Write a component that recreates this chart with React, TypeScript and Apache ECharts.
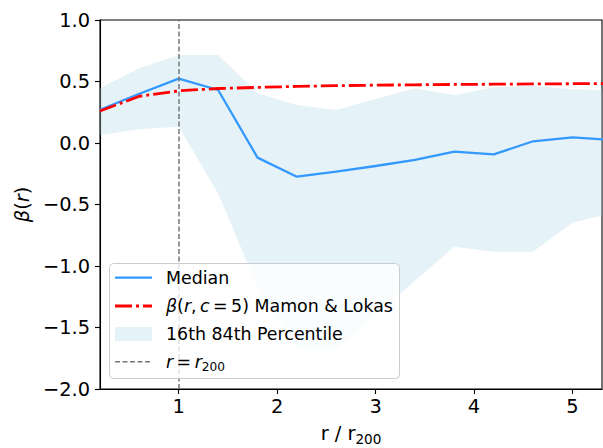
import React, { useEffect, useRef } from "react";
import * as echarts from "echarts";

const radius = [0.2, 0.6, 1.0, 1.4, 1.8, 2.2, 2.6, 3.0, 3.4, 3.8, 4.2, 4.6, 5.0, 5.4];
const medianBeta = [0.27, 0.40, 0.523, 0.431, -0.119, -0.274, -0.233, -0.187, -0.138, -0.07, -0.092, 0.014, 0.046, 0.025];
const mamonLokas = [0.26, 0.38, 0.424, 0.443, 0.452, 0.46, 0.466, 0.47, 0.473, 0.476, 0.478, 0.48, 0.482, 0.484];
const upper84 = [0.445, 0.607, 0.715, 0.715, 0.404, 0.309, 0.268, 0.357, 0.445, 0.39, 0.453, 0.466, 0.436, 0.428];
const lower16 = [0.065, 0.111, 0.133, -0.41, -1.17, -1.67, -1.68, -1.40, -1.12, -0.843, -0.884, -0.884, -0.648, -0.57];
const xTicks = [1, 2, 3, 4, 5];
const r200 = 1;

const FONT = "DejaVu Sans";
const MEDIAN_COLOR = "#3399ff";
const BAND_COLOR = "rgba(173,216,230,0.32)";
const VLINE_COLOR = "#777777";
const AX_FS = 19.4;
const LEG_FS = 17.4;

const fmtY = (v: number) => (v < 0 ? "\u2212" : "") + Math.abs(v).toFixed(1);

const makeRich = (fs: number) => ({
  i: { fontFamily: FONT, fontStyle: "italic", fontSize: fs, color: "#000" },
  n: { fontFamily: FONT, fontSize: fs, color: "#000" },
  sub: { fontFamily: FONT, fontSize: Math.round(fs * 0.7 * 10) / 10, color: "#000", padding: [Math.round(fs * 0.6), 0, 0, 0] },
});
const axisRich = makeRich(AX_FS);
const legRich = makeRich(LEG_FS);

export default function App() {
  const ref = useRef<HTMLDivElement>(null);
  useEffect(() => {
    if (!ref.current) return;
    const chart = echarts.init(ref.current, null, { renderer: "svg" });
    const legendX = 115;
    const legendTextX = 166;
    const rows = [277.7, 306, 334, 361.7];
    const option: any = {
      animation: false,
      textStyle: { fontFamily: FONT },
      grid: {
        left: 100,
        right: 1,
        top: 20,
        bottom: 59,
        outerBoundsMode: "none",
        containLabel: false,
        show: true,
        borderColor: "#000",
        borderWidth: 1.1,
        backgroundColor: "transparent",
      },
      xAxis: {
        type: "value",
        min: 0.2,
        max: 5.3,
        splitLine: { show: false },
        axisLine: { show: true, onZero: false, lineStyle: { color: "#000", width: 1.1 } },
        axisTick: { show: true, inside: false, length: 5, customValues: xTicks, lineStyle: { color: "#000", width: 1.1 } },
        axisLabel: {
          customValues: xTicks,
          formatter: (v: number) => String(v),
          fontSize: AX_FS,
          fontFamily: FONT,
          color: "#000",
          margin: 8,
        },
        name: "{n|r / r}{sub|200}",
        nameLocation: "middle",
        nameGap: 31,
        nameTextStyle: { rich: axisRich },
      },
      yAxis: {
        type: "value",
        min: -2,
        max: 1,
        interval: 0.5,
        splitLine: { show: false },
        axisLine: { show: true, onZero: false, lineStyle: { color: "#000", width: 1.1 } },
        axisTick: { show: true, inside: false, length: 5, lineStyle: { color: "#000", width: 1.1 } },
        axisLabel: {
          formatter: fmtY,
          fontSize: AX_FS,
          fontFamily: FONT,
          color: "#000",
          margin: 10,
        },
        name: "{i|\u03b2}{n|(}{i|r}{n|)}",
        nameLocation: "middle",
        nameGap: 60,
        nameTextStyle: { rich: axisRich },
      },
      series: [
        {
          type: "custom",
          name: "16th 84th Percentile",
          z: 1,
          data: radius.map((x, i) => [x, lower16[i], upper84[i]]),
          encode: { x: 0, y: [1, 2] },
          renderItem: (params: any, api: any) => {
            if (params.dataIndex !== 0) return null;
            const top = radius.map((x, i) => api.coord([x, upper84[i]]));
            const bot = radius.map((x, i) => api.coord([x, lower16[i]])).reverse();
            const cs = params.coordSys;
            return {
              type: "polygon",
              shape: { points: top.concat(bot) },
              style: { fill: BAND_COLOR, stroke: "none" },
              clipPath: { type: "rect", shape: { x: cs.x, y: cs.y, width: cs.width, height: cs.height } },
            };
          },
        },
        {
          type: "line",
          name: "Median",
          z: 3,
          data: radius.map((x, i) => [x, medianBeta[i]]),
          showSymbol: false,
          symbol: "none",
          lineStyle: { color: MEDIAN_COLOR, width: 2.3 },
          clip: true,
          markLine: {
            silent: true,
            symbol: "none",
            label: { show: false },
            lineStyle: { color: VLINE_COLOR, type: [5, 2.5], width: 1.5 },
            data: [{ xAxis: r200 }],
            z: 4,
          },
        },
        {
          type: "line",
          name: "Mamon & Lokas",
          z: 4,
          data: radius.map((x, i) => [x, mamonLokas[i]]),
          showSymbol: false,
          symbol: "none",
          lineStyle: { color: "#ff0000", width: 2.8, type: [17, 4, 3, 4] },
          clip: true,
        },
      ],
      graphic: [
        {
          type: "group",
          z: 100,
          children: [
            {
              type: "rect",
              z: 100,
              shape: { x: 109.5, y: 263.5, width: 290, height: 115, r: 4 },
              style: { fill: "rgba(255,255,255,0.8)", stroke: "#cccccc", lineWidth: 1 },
            },
            {
              type: "line",
              z: 101,
              shape: { x1: legendX, y1: rows[0], x2: legendX + 37, y2: rows[0] },
              style: { stroke: MEDIAN_COLOR, lineWidth: 2.3 },
            },
            {
              type: "line",
              z: 101,
              shape: { x1: legendX, y1: rows[1], x2: legendX + 37, y2: rows[1] },
              style: { stroke: "#ff0000", lineWidth: 2.8, lineDash: [17, 4, 3, 4] },
            },
            {
              type: "rect",
              z: 101,
              shape: { x: legendX, y: rows[2] - 7, width: 37, height: 14 },
              style: { fill: BAND_COLOR },
            },
            {
              type: "line",
              z: 101,
              shape: { x1: legendX, y1: rows[3], x2: legendX + 37, y2: rows[3] },
              style: { stroke: VLINE_COLOR, lineWidth: 1.5, lineDash: [5, 2.5] },
            },
            {
              type: "text",
              z: 101,
              x: legendTextX,
              y: rows[0],
              style: { text: "{n|Median}", rich: legRich, verticalAlign: "middle", align: "left" },
            },
            {
              type: "text",
              z: 101,
              x: legendTextX,
              y: rows[1],
              style: {
                text: "{i|\u03b2}{n|(}{i|r}{n|,\u2009}{i|c}{n|\u2009=\u20095) Mamon & Lokas}",
                rich: legRich,
                verticalAlign: "middle",
                align: "left",
              },
            },
            {
              type: "text",
              z: 101,
              x: legendTextX,
              y: rows[2],
              style: { text: "{n|16th 84th Percentile}", rich: legRich, verticalAlign: "middle", align: "left" },
            },
            {
              type: "text",
              z: 101,
              x: legendTextX,
              y: rows[3],
              style: {
                text: "{i|r}{n|\u2009=\u2009}{i|r}{sub|200}",
                rich: legRich,
                verticalAlign: "middle",
                align: "left",
              },
            },
          ],
        },
      ],
    };
    chart.setOption(option);
    return () => chart.dispose();
  }, []);
  return (
    <div
      ref={ref}
      style={{ position: "fixed", left: 0, top: 0, width: 603, height: 448, background: "#fff" }}
    />
  );
}
